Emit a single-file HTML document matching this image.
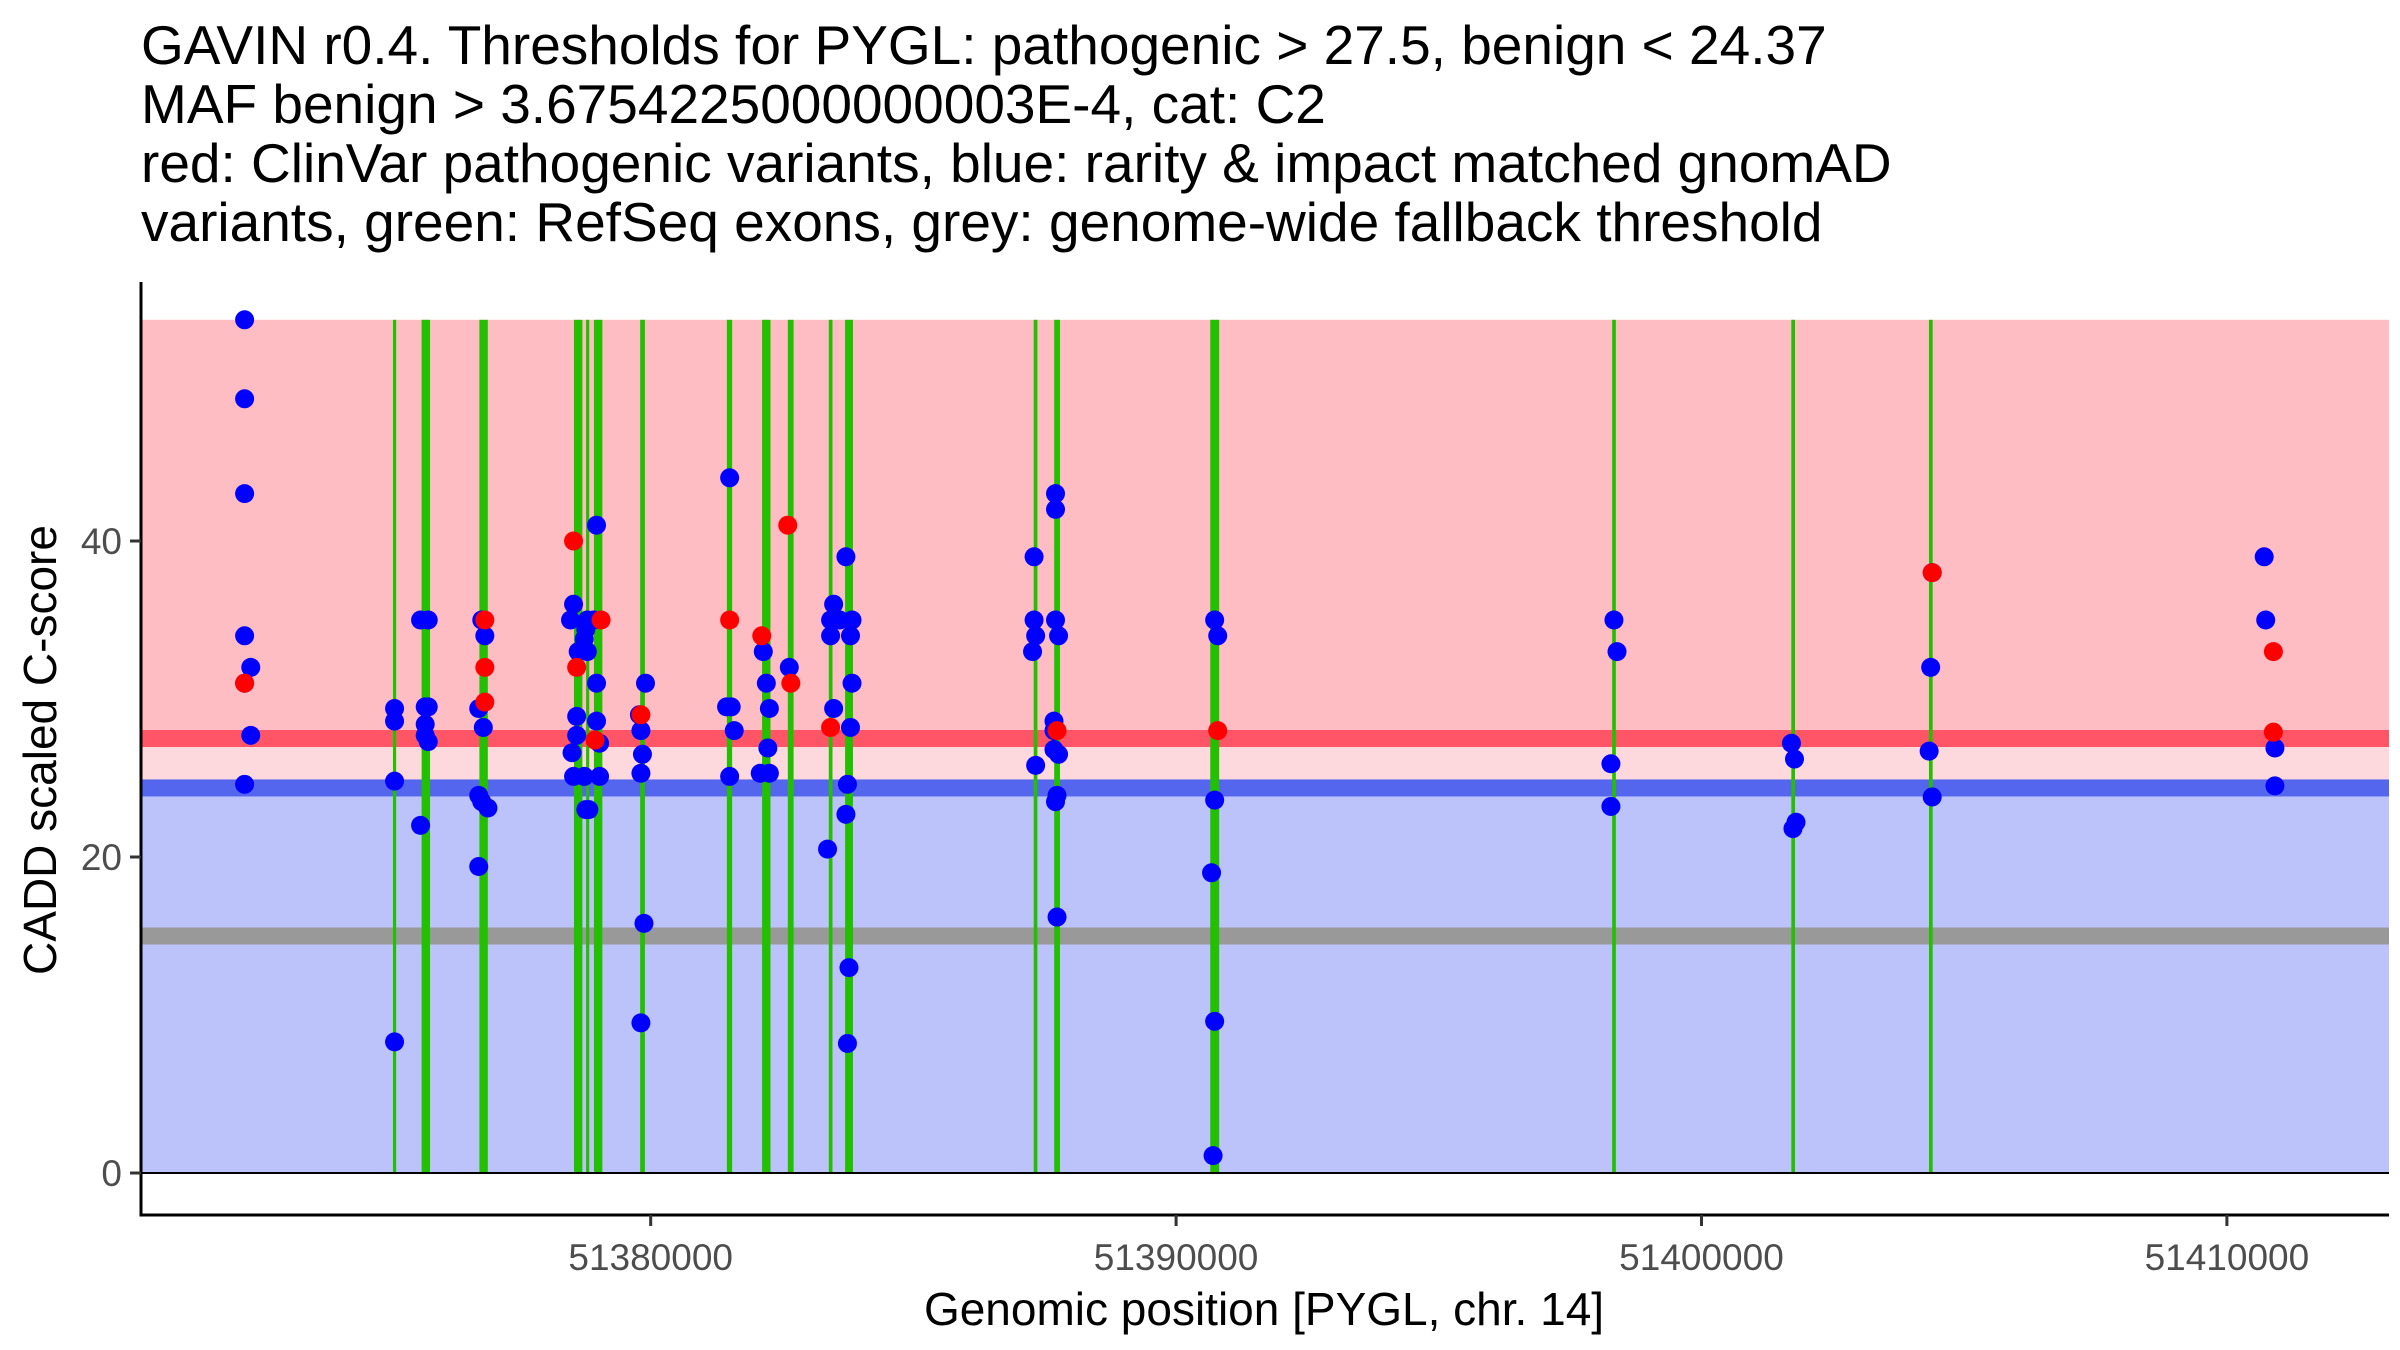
<!DOCTYPE html>
<html><head><meta charset="utf-8">
<style>
html,body{margin:0;padding:0;background:#fff;}
svg{display:block;font-family:"Liberation Sans",Arial,sans-serif;}
</style></head>
<body>
<svg id="chart" width="2400" height="1350" viewBox="0 0 2400 1350" xmlns="http://www.w3.org/2000/svg">
<g font-size="55" fill="#000">
<text x="141" y="64">GAVIN r0.4. Thresholds for PYGL: pathogenic &gt; 27.5, benign &lt; 24.37</text>
<text x="141" y="123">MAF benign &gt; 3.6754225000000003E-4, cat: C2</text>
<text x="141" y="182">red: ClinVar pathogenic variants, blue: rarity &amp; impact matched gnomAD</text>
<text x="141" y="241">variants, green: RefSeq exons, grey: genome-wide fallback threshold</text>
</g>
<g id="bands"></g>
<g id="exons"></g>
<g id="points"></g>
<g id="axes"></g>
<text x="1264" y="1325" font-size="46" text-anchor="middle">Genomic position [PYGL, chr. 14]</text>
<text transform="translate(56,750) rotate(-90)" font-size="46" text-anchor="middle">CADD scaled C-score</text>
</svg>
<script>
const pathoThreshold = 27.5;
const benignThreshold = 24.37;
const fallbackThreshold = 15;
const yMaxData = 54;
const xTicks = [51380000, 51390000, 51400000, 51410000];
const yTicks = [0, 20, 40];
const exonStarts = [51375095,51375640,51376740,51378540,51378770,51378920,51379800,51381450,51382120,51382610,51383390,51383700,51387290,51387680,51390650,51398300,51401710,51404330];
const exonEnds   = [51375155,51375800,51376900,51378700,51378830,51379080,51379890,51381550,51382280,51382720,51383460,51383850,51387360,51387790,51390820,51398370,51401780,51404400];
const blueX = [51372271,51372271,51372271,51372271,51372388,51372271,51372388,51372271,
51375125,51375125,51375125,51375125,
51375620,51375766,51375708,51375766,51375708,51375708,51375766,51375620,
51376727,51376785,51376843,51376814,51376727,51376785,51376902,51376727,
51378532,51378474,51378794,51378911,51378765,51378736,51378620,51378794,51378591,51378969,51378591,51379027,51378503,51378532,51378736,51379027,51378765,51378823,51378969,51378969,
51379785,51379814,51379843,51379814,51379901,51379872,51379814,
51381503,51381444,51381532,51381590,51381503,
51382143,51382201,51382259,51382230,51382085,51382259,
51382638,
51383482,51383424,51383599,51383832,51383424,51383803,51383832,51383482,51383803,51383745,51383716,51383366,51383774,51383745,51383716,
51387297,51387705,51387705,51387297,51387705,51387327,51387763,51387268,51387676,51387676,51387676,51387763,51387327,51387734,51387705,51387734,
51390734,51390792,51390734,51390675,51390734,51390704,
51398334,51398392,51398276,51398276,
51401712,51401770,51401799,51401741,
51404391,51404362,51404333,51404391,
51410710,51410739,51410914,51410914];
const blueY = [54,49,43,34,32,31,27.7,24.6,
29.4,28.6,24.8,8.3,
35,35,29.5,29.5,28.4,27.7,27.3,22,
29.4,35,34,28.2,23.9,23.5,23.1,19.4,
36,35,35,35,34.4,33.8,33,33,28.9,28.6,27.7,27.2,26.6,25.1,25.1,25.1,23,23,41,31,
29,28,26.5,25.3,31,15.8,9.5,
44,29.5,29.5,28,25.1,
33,31,29.4,26.9,25.3,25.3,
32,
36,35,35,35,34,34,31,29.4,28.2,24.6,22.7,20.5,13,8.2,39,
39,43,42,35,35,34,34,33,28.6,28.0,26.8,26.5,25.8,23.9,23.5,16.2,
35,34,23.6,19,9.6,1.1,
35,33,25.9,23.2,
27.2,26.2,22.2,21.8,
38,32,26.7,23.8,
39,35,26.9,24.5];
const redX = [51372271,51376843,51376843,51376843,51378532,51378591,51379056,51378940,51379814,51381503,51382114,51382609,51382667,51383424,51387734,51390792,51404391,51410885,51410885];
const redY = [31,35,29.8,32,40,32,35,27.4,29,35,34,41,31,28.2,28,28,38,33,27.9];

const NS='http://www.w3.org/2000/svg';
const X0=141, X1=2389, Y0=1173, PXU=15.8, K=525.4;
const gx0 = 51370299;
function xs(g){return X0+(g-gx0)*K/10000;}
function ys(v){return Y0-v*PXU;}
function mk(tag,attrs,parent){const e=document.createElementNS(NS,tag);for(const k in attrs)e.setAttribute(k,attrs[k]);parent.appendChild(e);return e;}

const bands=document.getElementById('bands');
let r;
r=mk('rect',{x:X0,y:ys(yMaxData),width:X1-X0,height:ys(pathoThreshold)-ys(yMaxData),fill:'#FDBDC2'},bands);


r=mk('rect',{x:X0,y:ys(pathoThreshold),width:X1-X0,height:ys(benignThreshold)-ys(pathoThreshold),fill:'#FDD8DD'},bands);


r=mk('rect',{x:X0,y:ys(benignThreshold),width:X1-X0,height:ys(0)-ys(benignThreshold),fill:'#BCC2FA'},bands);


const lines=[[pathoThreshold,'#FF5566','pathogenic-threshold-line'],[benignThreshold,'#5566EE','benign-threshold-line'],[fallbackThreshold,'#999999','fallback-threshold-line']];
lines.forEach(l=>{
  const e=mk('rect',{x:X0,y:ys(l[0])-8.5,width:X1-X0,height:17,fill:l[1]},bands);
  
  
});

const ex=document.getElementById('exons');
exonStarts.forEach((s,i)=>{
  const a=xs(s), b=xs(exonEnds[i]);
  const e=mk('rect',{x:a,y:ys(yMaxData),width:Math.max(3,b-a),height:ys(0)-ys(yMaxData),fill:'#22C000'},ex);
  
  
});

const pts=document.getElementById('points');
blueX.forEach((g,i)=>{
  const c=mk('circle',{cx:xs(g),cy:ys(blueY[i]),r:9.5,fill:'#0000FF'},pts);
  
  
});
redX.forEach((g,i)=>{
  const c=mk('circle',{cx:xs(g),cy:ys(redY[i]),r:9.5,fill:'#FF0000'},pts);
  
  
});

const ax=document.getElementById('axes');
let a=mk('line',{x1:X0,y1:1215,x2:X1,y2:1215,stroke:'#000','stroke-width':3},ax);


a=mk('line',{x1:X0,y1:282,x2:X0,y2:1216.5,stroke:'#000','stroke-width':3},ax);


a=mk('line',{x1:X0,y1:ys(0),x2:X1,y2:ys(0),stroke:'#000','stroke-width':2},ax);


xTicks.forEach(t=>{
  const x=xs(t);
  const tk=mk('line',{x1:x,y1:1215,x2:x,y2:1226,stroke:'#333','stroke-width':3},ax);
  
  
  const tx=mk('text',{x:x,y:1270,'font-size':37,'text-anchor':'middle',fill:'#4D4D4D'},ax);
  tx.textContent=String(t);
  
  
});
yTicks.forEach(t=>{
  const y=ys(t);
  const tk=mk('line',{x1:X0-11,y1:y,x2:X0,y2:y,stroke:'#333','stroke-width':3},ax);
  
  
  const tx=mk('text',{x:X0-19,y:y+13,'font-size':37,'text-anchor':'end',fill:'#4D4D4D'},ax);
  tx.textContent=String(t);
  
  
});
</script>
</body></html>
